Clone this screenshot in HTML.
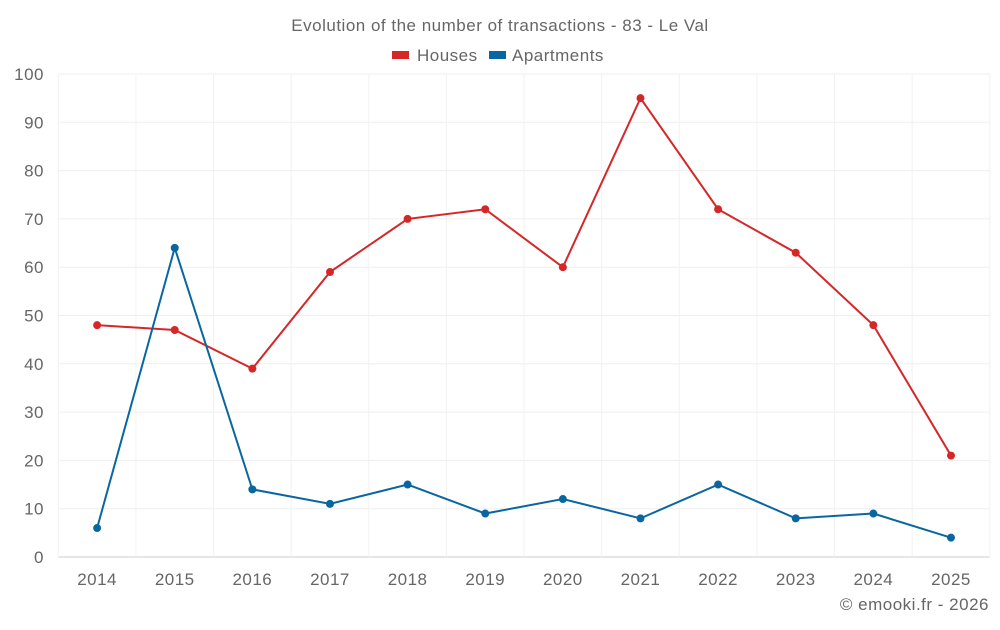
<!DOCTYPE html>
<html><head><meta charset="utf-8"><style>
body{margin:0;background:#fff;font-family:"Liberation Sans",sans-serif}
svg text{font-family:"Liberation Sans",sans-serif;fill:#666;letter-spacing:0.5px}
</style></head><body>
<svg id="c" width="1000" height="625">
<text x="500" y="31" font-size="17" text-anchor="middle">Evolution of the number of transactions - 83 - Le Val</text>
<g><rect x="392" y="51" width="17" height="8" fill="#d62728"/><text x="417" y="61" font-size="17">Houses</text></g>
<g><rect x="489" y="51" width="17" height="8" fill="#0a66a0"/><text x="512" y="61" font-size="17">Apartments</text></g>
<g id="grid"></g><g id="axes"></g><g id="series"></g>
<text x="989" y="610" font-size="17" text-anchor="end">© emooki.fr - 2026</text>
</svg>
<script>
const years=["2014","2015","2016","2017","2018","2019","2020","2021","2022","2023","2024","2025"];
const houses=[48,47,39,59,70,72,60,95,72,63,48,21];
const apartments=[6,64,14,11,15,9,12,8,15,8,9,4];
const yTicks=[0,10,20,30,40,50,60,70,80,90,100];
const NS="http://www.w3.org/2000/svg";
const L=58.3,R=989.8,T=74,B=557;
const bw=(R-L)/years.length;
const x=i=>L+bw*(i+0.5);
const y=v=>B-(v/100)*(B-T);
function mk(t,a,p){const e=document.createElementNS(NS,t);for(const k in a)e.setAttribute(k,a[k]);p.appendChild(e);return e;}
const grid=document.getElementById('grid'),axes=document.getElementById('axes'),ser=document.getElementById('series');
yTicks.forEach(v=>{
 const l=mk('line',{x1:L,x2:R,y1:y(v),y2:y(v),stroke:v===0?'#ccc':'#efefef'},grid);
 
 
 const t=mk('text',{x:44,y:y(v)+6,'font-size':17,'text-anchor':'end'},axes);t.textContent=v;
 
 
});
for(let i=0;i<=years.length;i++){
 const l=mk('line',{x1:L+bw*i,x2:L+bw*i,y1:T,y2:B,stroke:'#f2f2f2'},grid);
 
 
}
years.forEach((yr,i)=>{
 const t=mk('text',{x:x(i),y:585,'font-size':17,'text-anchor':'middle'},axes);t.textContent=yr;
 
 
});
function draw(d,c,n){
 const p=mk('polyline',{points:d.map((v,i)=>x(i)+','+y(v)).join(' '),fill:'none',stroke:c,'stroke-width':2},ser);
 
 
 d.forEach((v,i)=>{const e=mk('circle',{cx:x(i),cy:y(v),r:4,fill:c},ser);
 
 });
}
draw(houses,'#d62728','houses');
draw(apartments,'#0a66a0','apartments');
</script>
</body></html>
